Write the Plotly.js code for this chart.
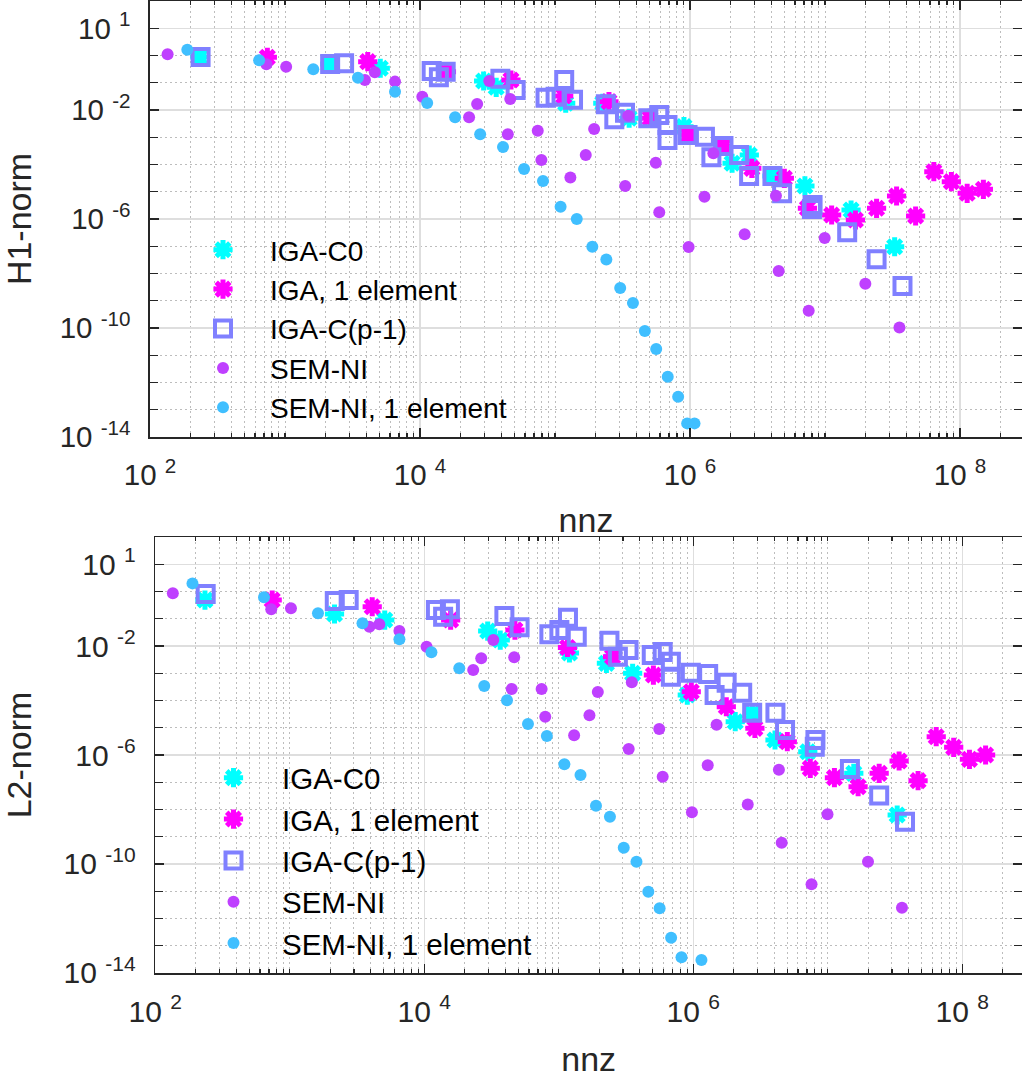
<!DOCTYPE html>
<html><head><meta charset="utf-8">
<script src="https://cdn.plot.ly/plotly-3.0.1.min.js"></script>
<style>html,body{margin:0;padding:0;background:#fff;overflow:hidden}</style>
</head><body><div id="chart" style="width:1022px;height:1078px"></div>
<script>
// ---------- data ----------
const seriesNames = ['IGA-C0', 'IGA, 1 element', 'IGA-C(p-1)', 'SEM-NI', 'SEM-NI, 1 element'];

// IGA-C0
const xIgaC0 = [234, 2150, 5080, 2.96e4, 3.67e4, 1.20e5, 2.26e5, 3.54e5, 9.02e5, 2.05e6, 2.75e6, 4.05e6, 7.10e6, 1.56e7, 3.28e7];
const h1IgaC0 = [0.883, 0.489, 0.340, 0.116, 0.0682, 0.0177, 0.0177, 4.97e-3, 2.44e-3, 1.11e-4, 2.23e-4, 3.78e-5, 1.63e-5, 2.14e-6, 9.59e-8];
const l2IgaC0 = [0.489, 0.150, 0.0902, 0.0356, 0.0166, 5.55e-3, 2.32e-3, 9.98e-4, 1.59e-4, 1.67e-5, 3.39e-5, 3.55e-6, 1.32e-6, 2.12e-7, 6.27e-9];

// IGA, 1 element
const xIga1 = [740, 4100, 1.57e4, 4.72e4, 1.16e5, 2.51e5, 5.05e5, 9.66e5, 1.76e6, 2.87e6, 5.00e6, 7.41e6, 1.12e7, 1.68e7, 2.41e7, 3.39e7, 4.69e7, 6.40e7, 8.63e7, 1.13e8, 1.49e8];
const h1Iga1 = [0.861, 0.594, 0.255, 0.126, 0.0327, 0.0202, 4.97e-3, 1.21e-3, 4.78e-4, 7.24e-5, 3.11e-5, 2.47e-6, 1.40e-6, 9.18e-7, 2.47e-6, 6.98e-6, 1.29e-6, 5.44e-5, 2.34e-5, 8.77e-6, 1.23e-5];
const l2Iga1 = [0.489, 0.277, 0.0902, 0.0387, 8.83e-3, 4.06e-3, 8.63e-4, 2.10e-4, 5.92e-5, 9.53e-6, 3.08e-6, 3.24e-7, 1.47e-7, 6.85e-8, 2.12e-7, 6.01e-7, 1.14e-7, 4.69e-6, 1.91e-6, 6.93e-7, 9.98e-7];

// IGA-C(p-1)
const xIgaCp = [237, 2160, 2740, 1.22e4, 1.38e4, 1.55e4, 3.94e4, 5.11e4, 8.51e4, 1.01e5, 1.17e5, 1.36e5, 2.38e5, 2.75e5, 3.30e5, 4.91e5, 5.92e5, 6.81e5, 6.81e5, 9.59e5, 1.29e6, 1.44e6, 1.77e6, 2.31e6, 2.74e6, 4.08e6, 4.81e6, 8.09e6, 8.00e6, 1.46e7, 2.41e7, 3.75e7];
const h1IgaCp = [0.883, 0.489, 0.519, 0.270, 0.159, 0.255, 0.141, 0.0543, 0.0283, 0.0308, 0.126, 0.0239, 0.0162, 4.56e-3, 7.98e-3, 4.97e-3, 6.56e-3, 2.82e-3, 7.93e-4, 1.21e-3, 1.05e-3, 1.84e-4, 4.78e-4, 2.23e-4, 3.78e-5, 3.78e-5, 8.77e-6, 3.27e-6, 2.33e-6, 3.24e-7, 3.31e-8, 3.46e-9];
const l2IgaCp = [0.813, 0.450, 0.489, 0.210, 0.119, 0.223, 0.126, 0.0486, 0.0269, 0.0387, 0.109, 0.0220, 0.0157, 4.06e-3, 7.14e-3, 4.68e-3, 6.03e-3, 2.65e-3, 7.48e-4, 1.05e-3, 9.40e-4, 1.59e-4, 4.50e-4, 1.93e-4, 3.56e-5, 3.56e-5, 8.26e-6, 3.55e-6, 2.01e-6, 3.05e-7, 3.25e-8, 3.56e-9];

// SEM-NI
const xSem = [135, 728, 1020, 3910, 4630, 6530, 1.04e4, 2.31e4, 2.65e4, 3.26e4, 4.47e4, 4.66e4, 7.45e4, 7.93e4, 1.30e5, 1.69e5, 1.95e5, 3.31e5, 3.49e5, 5.58e5, 5.92e5, 9.77e5, 1.28e6, 1.49e6, 2.54e6, 4.33e6, 4.54e6, 7.57e6, 9.95e6, 1.99e7, 3.56e7];
const h1Sem = [1.11, 0.476, 0.389, 0.126, 0.243, 0.110, 0.0308, 5.41e-3, 1.66e-2, 0.116, 1.29e-3, 2.54e-2, 1.74e-3, 1.46e-4, 3.33e-5, 2.23e-4, 2.01e-3, 1.63e-5, 6.18e-3, 1.16e-4, 1.76e-6, 9.35e-8, 6.58e-6, 2.58e-4, 2.74e-7, 7.16e-6, 1.23e-8, 4.30e-10, 2.00e-7, 4.21e-9, 1.05e-10];
const l2Sem = [0.861, 0.223, 0.243, 5.12e-2, 6.27e-2, 3.56e-2, 9.44e-3, 1.32e-3, 3.54e-3, 1.66e-2, 2.64e-4, 3.85e-3, 2.64e-4, 2.54e-5, 5.27e-6, 2.86e-5, 2.05e-4, 1.66e-6, 4.66e-4, 9.00e-6, 1.60e-7, 7.87e-9, 4.18e-7, 1.29e-5, 1.52e-8, 2.88e-7, 6.03e-10, 1.79e-11, 6.64e-9, 1.21e-10, 2.48e-12];

// SEM-NI, 1 element
const xSem1H1 = [189, 643, 1620, 3470, 6530, 1.13e4, 1.82e4, 2.79e4, 4.12e4, 5.90e4, 8.15e4, 1.10e5, 1.45e5, 1.89e5, 2.40e5, 3.04e5, 3.78e5, 4.63e5, 5.62e5, 6.84e5, 8.17e5, 9.53e5, 1.08e6];
const h1Sem1 = [1.64, 0.668, 0.313, 0.154, 0.0471, 1.81e-2, 5.41e-3, 1.29e-3, 4.39e-4, 6.84e-5, 2.48e-5, 2.82e-6, 1.00e-6, 9.59e-8, 3.25e-8, 2.92e-9, 8.22e-10, 7.73e-11, 1.69e-11, 1.62e-12, 2.99e-13, 3.16e-14, 3.16e-14];
const xSem1L2 = [189, 643, 1620, 3470, 6530, 1.13e4, 1.82e4, 2.79e4, 4.12e4, 5.90e4, 8.15e4, 1.10e5, 1.45e5, 1.89e5, 2.40e5, 3.04e5, 3.78e5, 4.63e5, 5.62e5, 6.84e5, 8.17e5, 1.15e6];
const l2Sem1 = [2.00, 0.615, 0.159, 0.0682, 1.77e-2, 5.87e-3, 1.52e-3, 3.40e-4, 1.02e-4, 1.37e-5, 4.98e-6, 4.55e-7, 1.84e-7, 1.37e-8, 5.42e-9, 3.94e-10, 1.21e-10, 9.57e-12, 2.36e-12, 1.96e-13, 3.74e-14, 2.98e-14];

// ticks
const xTickVals = [1e2, 1e4, 1e6, 1e8];
const xTickText = ['10\u00a0<sup>2</sup>', '10\u00a0<sup>4</sup>', '10\u00a0<sup>6</sup>', '10\u00a0<sup>8</sup>'];
const yTickVals = [1e1, 1e-2, 1e-6, 1e-10, 1e-14];
const yTickText = ['10\u00a0<sup>1</sup>', '10\u00a0<sup>-2</sup>', '10\u00a0<sup>-6</sup>', '10\u00a0<sup>-10</sup>', '10\u00a0<sup>-14</sup>'];
const yTitles = ['H1-norm', 'L2-norm'];
const xTitle = 'nnz';

// ---------- styling ----------
const FONT = 'Liberation Sans, Arial, Helvetica, sans-serif';
const INK = '#262626';
const colors = ['#00FFFF', '#FF00FF', '#8080FF', '#BF40FF', '#40BFFF'];

const xMinor = [];
for (let e = 2; e <= 8; e++) {
  for (let m = 1; m <= 9; m++) {
    if (m === 1 && e % 2 === 0) continue;
    xMinor.push(m * Math.pow(10, e));
  }
}
const yMinor = [];
for (let e = 1; e >= -13; e--) {
  if (![1, -2, -6, -10, -14].includes(e)) yMinor.push(Math.pow(10, e));
}

function markerFor(i) {
  if (i === 0 || i === 1) return {symbol: 'asterisk-open', size: 16, color: colors[i], line: {color: colors[i], width: 5}};
  if (i === 2) return {symbol: 'square-open', size: 16, color: colors[i], line: {color: colors[i], width: 4}};
  return {symbol: 'circle', size: 12, color: colors[i], line: {width: 0}};
}

const topData = [[xIgaC0, h1IgaC0], [xIga1, h1Iga1], [xIgaCp, h1IgaCp], [xSem, h1Sem], [xSem1H1, h1Sem1]];
const botData = [[xIgaC0, l2IgaC0], [xIga1, l2Iga1], [xIgaCp, l2IgaCp], [xSem, l2Sem], [xSem1L2, l2Sem1]];

const traces = [];
topData.forEach((d, i) => traces.push({
  type: 'scatter', mode: 'markers', name: seriesNames[i], x: d[0], y: d[1],
  xaxis: 'x', yaxis: 'y', legend: 'legend', marker: markerFor(i), cliponaxis: false
}));
botData.forEach((d, i) => traces.push({
  type: 'scatter', mode: 'markers', name: seriesNames[i], x: d[0], y: d[1],
  xaxis: 'x2', yaxis: 'y2', legend: 'legend2', marker: markerFor(i), cliponaxis: false
}));

function xAxis(domain, range, anchor, fs, tfs, tso) {
  return {
    type: 'log', domain: domain, range: range, anchor: anchor,
    tickmode: 'array', tickvals: xTickVals, ticktext: xTickText,
    ticks: 'inside', ticklen: 9, tickwidth: 1.3, tickcolor: INK,
    showline: true, linecolor: INK, linewidth: 1.6, mirror: 'allticks',
    showgrid: true, gridcolor: '#dedede', gridwidth: 1.5, zeroline: false,
    minor: {tickvals: xMinor, ticks: 'inside', ticklen: 4, tickwidth: 1.2, tickcolor: INK,
            showgrid: true, gridcolor: '#bdbdbd', gridwidth: 1, griddash: '2px,3px'},
    tickfont: {family: FONT, size: fs, color: INK}, ticklabelstandoff: 11,
    title: {text: xTitle, font: {family: FONT, size: tfs, color: INK}, standoff: tso},
    automargin: false
  };
}
function yAxis(domain, anchor, fs, tfs, title, tso) {
  return {
    type: 'log', domain: domain, range: [-14, 2], anchor: anchor,
    tickmode: 'array', tickvals: yTickVals, ticktext: yTickText,
    ticks: 'inside', ticklen: 9, tickwidth: 1.3, tickcolor: INK,
    showline: true, linecolor: INK, linewidth: 1.6, mirror: 'ticks',
    showgrid: true, gridcolor: '#dedede', gridwidth: 1.5, zeroline: false,
    minor: {tickvals: yMinor, ticks: 'inside', ticklen: 8, tickwidth: 1.2, tickcolor: INK,
            showgrid: true, gridcolor: '#bdbdbd', gridwidth: 1, griddash: '2px,3px'},
    tickfont: {family: FONT, size: fs, color: INK}, ticklabelstandoff: 12,
    title: {text: title, font: {family: FONT, size: tfs, color: INK}, standoff: tso},
    automargin: false
  };
}

const W = 1022, H = 1078;
const layout = {
  width: W, height: H, margin: {l: 0, r: 0, t: 0, b: 0},
  paper_bgcolor: '#ffffff', plot_bgcolor: '#ffffff',
  font: {family: FONT, color: INK},
  showlegend: true,
  xaxis: xAxis([150 / W, 1], [2, 2 + 872 / 135], 'y', 29.5, 34, 18),
  yaxis: yAxis([1 - 437 / H, 1 - 1 / H], 'x', 29.5, 34, yTitles[0], 24),
  xaxis2: xAxis([155.3 / W, 1], [2, 2 + 866.7 / 134.5], 'y2', 30, 34, 21),
  yaxis2: yAxis([1 - 972.9 / H, 1 - 537.1 / H], 'x2', 30, 34, yTitles[1], 24),
  legend: {x: 176 / W, y: 1 - 225 / H, xanchor: 'left', yanchor: 'top', bgcolor: 'rgba(0,0,0,0)',
           borderwidth: 0, itemwidth: 84, font: {family: FONT, size: 28, color: 'black'}},
  legend2: {x: 185 / W, y: 1 - 752 / H, xanchor: 'left', yanchor: 'top', bgcolor: 'rgba(0,0,0,0)',
            borderwidth: 0, itemwidth: 87, font: {family: FONT, size: 29.5, color: 'black'}}
};

Plotly.newPlot('chart', traces, layout, {displayModeBar: false, staticPlot: true});
</script></body></html>
